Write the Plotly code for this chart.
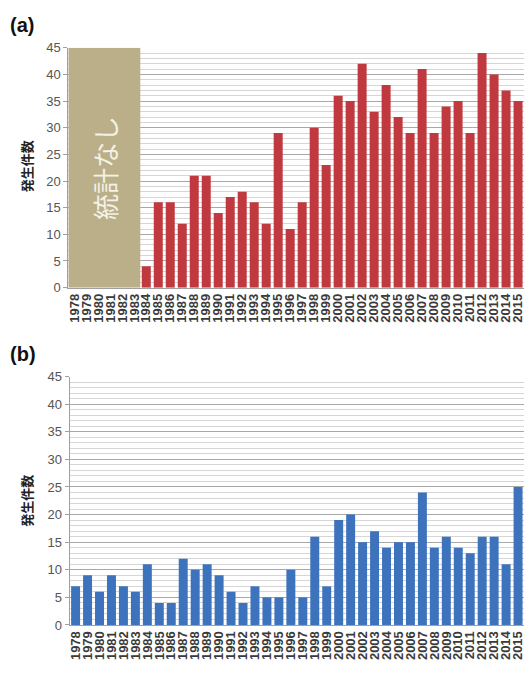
import plotly.graph_objects as go

years = [str(y) for y in range(1978, 2016)]
no_data_years = years[:6]
a_years = years[6:]
a_values = [4, 16, 16, 12, 21, 21, 14, 17, 18, 16, 12, 29, 11, 16, 30, 23,
            36, 35, 42, 33, 38, 32, 29, 41, 29, 34, 35, 29, 44, 40, 37, 35]
b_values = [7, 9, 6, 9, 7, 6, 11, 4, 4, 12, 10, 11, 9, 6, 4, 7, 5, 5, 10, 5,
            16, 7, 19, 20, 15, 17, 14, 15, 15, 24, 14, 16, 14, 13, 16, 16, 11, 25]
y_ticks = [0, 5, 10, 15, 20, 25, 30, 35, 40, 45]
y_title = "発生件数"
no_data_label = "統計なし"

W, H = 532, 676
def px(x):
    return x / W
def py(y):
    return 1 - y / H

fig = go.Figure()
fig.add_trace(go.Bar(x=a_years, y=a_values, marker_color="#C0393E",
                     marker_line_width=0, xaxis="x", yaxis="y", showlegend=False))
fig.add_trace(go.Bar(x=years, y=b_values, marker_color="#3D72BD",
                     marker_line_width=0, xaxis="x2", yaxis="y2", showlegend=False))

FONT = "Noto Sans CJK JP"
xcommon = dict(type="category", categoryorder="array", categoryarray=years,
               tickmode="array", tickvals=years, ticktext=years,
               tickangle=-90, tickfont=dict(size=13, color="#3A3A3A", family="Liberation Sans", weight="bold"),
               showline=True, linecolor="#A0A0A0", linewidth=1, ticks="", showgrid=False,
               range=[-0.5, len(years) - 0.5], fixedrange=True)
ycommon = dict(range=[0, 45], tickvals=y_ticks, tickfont=dict(size=13, color="#555555", family="Liberation Sans"),
               showline=True, linecolor="#A0A0A0", linewidth=1, ticks="outside", ticklen=4,
               tickcolor="#A0A0A0", showgrid=True, gridcolor="#A8A8A8", gridwidth=1,
               minor=dict(dtick=1, showgrid=True, gridcolor="#D6D6D6", gridwidth=1),
               zeroline=False, fixedrange=True)

fig.update_layout(
    width=W, height=H, margin=dict(l=0, r=0, t=0, b=0),
    paper_bgcolor="white", plot_bgcolor="white", bargap=0.25,
    xaxis=dict(domain=[px(66.7), px(525)], anchor="y", **xcommon),
    yaxis=dict(domain=[py(287), py(41.7)], anchor="x", **ycommon),
    xaxis2=dict(domain=[px(68), px(525)], anchor="y2", **xcommon),
    yaxis2=dict(domain=[py(632), py(378)], anchor="x2", **ycommon),
    font=dict(family=FONT),
)

fig.add_shape(type="rect", xref="x", yref="y", x0=-0.5, x1=len(no_data_years) - 0.5,
              y0=0, y1=45, fillcolor="#BAAF88", line_width=0, layer="above")
fig.add_annotation(x=(len(no_data_years) - 1) / 2, y=22.5, xref="x", yref="y",
                   text=no_data_label, textangle=-90, showarrow=False,
                   font=dict(size=26, color="#F4F1E6", family=FONT))

for lbl, yy in [("(a)", 18), ("(b)", 355)]:
    fig.add_annotation(x=px(6), y=py(yy), xref="paper", yref="paper", text="<b>%s</b>" % lbl,
                       showarrow=False, xanchor="left", yanchor="middle",
                       font=dict(size=20, color="#111111", family="Liberation Sans"))
for yy in [163, 505]:
    fig.add_annotation(x=px(25), y=py(yy), xref="paper", yref="paper", text="<b>%s</b>" % y_title,
                       showarrow=False, textangle=-90, xanchor="center", yanchor="middle",
                       font=dict(size=13, color="#222222", family=FONT))

fig.write_html("out.html")
